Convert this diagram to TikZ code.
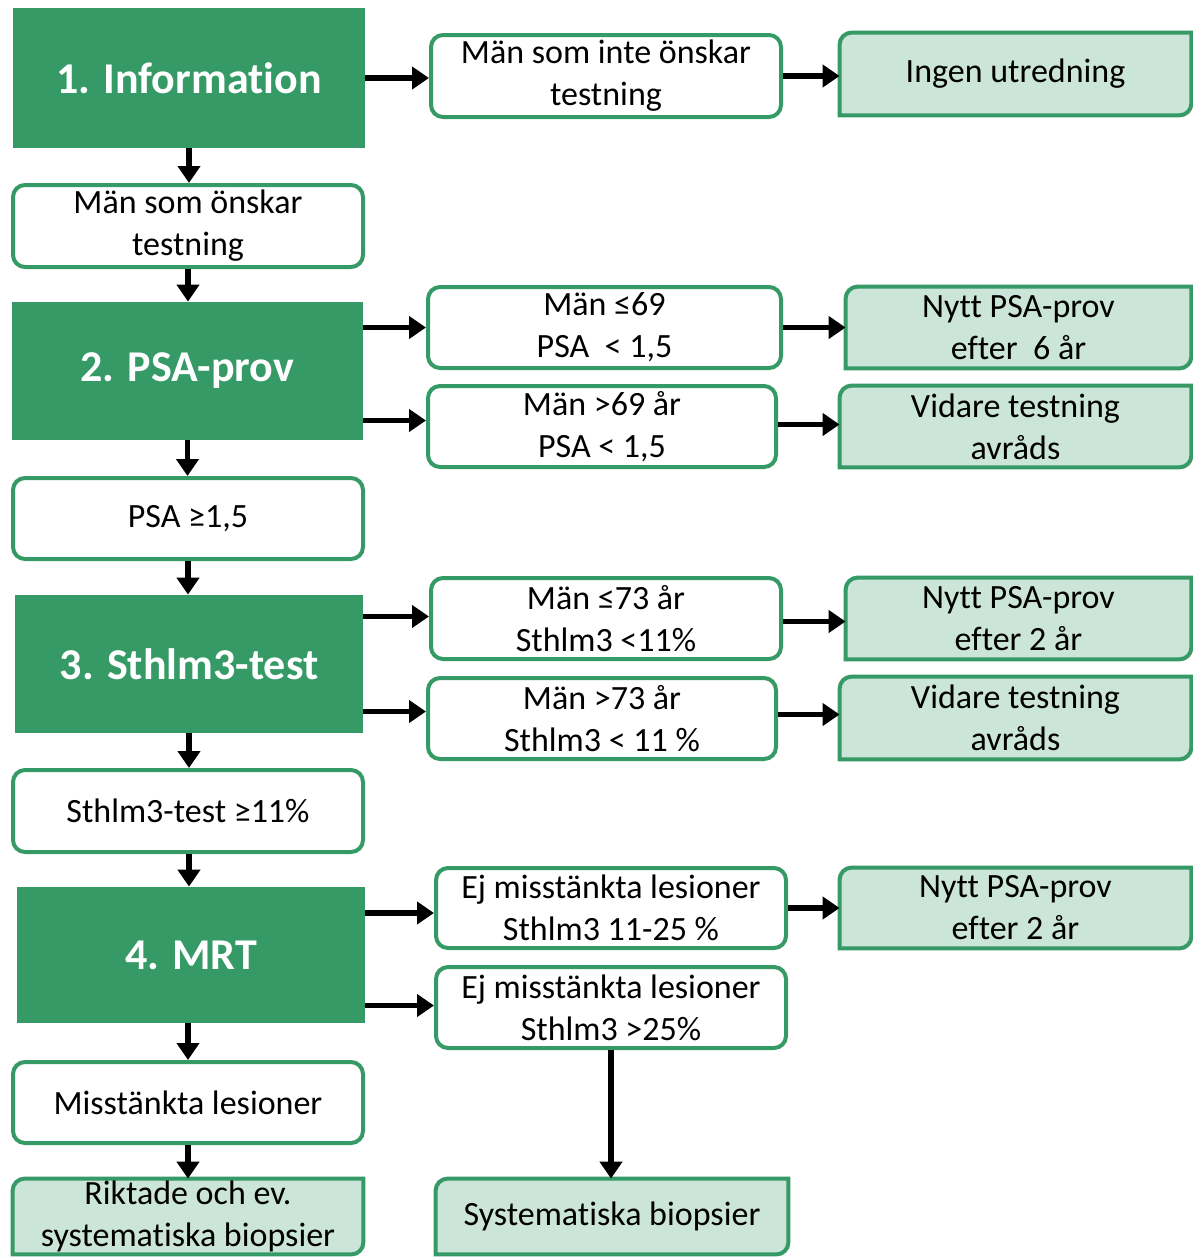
\documentclass[tikz,border=0pt]{standalone}
\usepackage{fontspec}
\setmainfont{Carlito}[Ligatures={NoCommon}]
\usetikzlibrary{arrows.meta,backgrounds}
\definecolor{dgreen}{RGB}{53,154,102}
\definecolor{lgreen}{RGB}{204,229,217}
\tikzset{
  x=0.5pt,y=-0.5pt,
  txt/.style={font=\fontsize{17pt}{21pt}\selectfont, align=center, text=black, inner sep=0pt},
  darkbox/.style={fill=dgreen, text=white, font=\bfseries\fontsize{22pt}{26pt}\selectfont, inner sep=0pt},
  whitebox/.style={txt, draw=dgreen, line width=2pt, rounded corners=6pt, fill=white},
  lbox/.style={txt},
  lshape/.style={draw=dgreen, fill=lgreen, line width=2pt},
  arr/.style={line width=2.6pt, -{Triangle[length=8.5pt,width=11pt]}, black},
}
\newcommand\lshapeof[1]{\filldraw[lshape] (#1.south west) -- ([yshift=-6pt]#1.north west) arc[start angle=180,end angle=90,radius=6pt] -- (#1.north east) -- ([yshift=6pt]#1.south east) arc[start angle=0,end angle=-90,radius=6pt] -- cycle;}
\begin{document}
\begin{tikzpicture}
\useasboundingbox (0,0) rectangle (1193,1258);
% dark boxes
\node[darkbox, minimum width=176pt, minimum height=70pt] (info) at (189,78) {1. Information};
\node[darkbox, minimum width=175.5pt, minimum height=69pt] (psa) at (187.5,371) {2. PSA-prov};
\node[darkbox, minimum width=174pt, minimum height=69pt] (sth) at (189,664) {3. Sthlm3-test};
\node[darkbox, minimum width=174pt, minimum height=68pt] (mrt) at (191,955) {4. MRT};
% left white boxes
\node[whitebox, minimum width=175pt, minimum height=41pt] (onskar) at (188,226) {Män som önskar\\testning};
\node[whitebox, minimum width=175pt, minimum height=40.5pt] (psa15) at (188,518.5) {PSA ≥1,5};
\node[whitebox, minimum width=175pt, minimum height=41pt] (sth11) at (188,811) {Sthlm3-test ≥11\%};
\node[whitebox, minimum width=175pt, minimum height=40.5pt] (miss) at (188,1102.5) {Misstänkta lesioner};
% middle boxes
\node[whitebox, minimum width=175pt, minimum height=41pt] (inte) at (606,76) {Män som inte önskar\\testning};
\node[whitebox, minimum width=176.5pt, minimum height=40.5pt] (m69a) at (604.5,327.5) {Män ≤69\\PSA~ < 1,5};
\node[whitebox, minimum width=174pt, minimum height=40.5pt] (m69b) at (602,426.5) {Män >69 år\\PSA < 1,5};
\node[whitebox, minimum width=175pt, minimum height=40.5pt] (m73a) at (606,618.5) {Män ≤73 år\\Sthlm3 <11\%};
\node[whitebox, minimum width=174pt, minimum height=40.5pt] (m73b) at (602,718.5) {Män >73 år\\Sthlm3 < 11 \%};
\node[whitebox, minimum width=175pt, minimum height=40pt] (ej1) at (611,908) {Ej misstänkta lesioner\\Sthlm3 11-25 \%};
\node[whitebox, minimum width=175pt, minimum height=40.5pt] (ej2) at (611,1007.5) {Ej misstänkta lesioner\\Sthlm3 >25\%};
% light boxes
\node[lbox, minimum width=175pt, minimum height=37.5pt] (rikt) at (188,1216.5) {Riktade och ev.\\systematiska biopsier};
\node[lbox, minimum width=176pt, minimum height=37.5pt] (sys) at (612,1216.5) {Systematiska biopsier};
\node[lbox, minimum width=175.5pt, minimum height=41pt] (ingen) at (1015.5,74) {Ingen utredning};
\node[lbox, minimum width=172.5pt, minimum height=40.5pt] (nytt6) at (1018.5,327.5) {Nytt PSA-prov\\efter~ 6 år};
\node[lbox, minimum width=175.5pt, minimum height=40.5pt] (vid1) at (1015.5,426.5) {Vidare testning\\avråds};
\node[lbox, minimum width=172.5pt, minimum height=40.5pt] (nytt2a) at (1018.5,618.5) {Nytt PSA-prov\\efter 2 år};
\node[lbox, minimum width=175.5pt, minimum height=41pt] (vid2) at (1015.5,718) {Vidare testning\\avråds};
\node[lbox, minimum width=175.5pt, minimum height=40pt] (nytt2b) at (1015.5,908) {Nytt PSA-prov\\efter 2 år};
\begin{scope}[on background layer]
\foreach \n in {rikt,sys,ingen,nytt6,vid1,nytt2a,vid2,nytt2b} {\lshapeof{\n}}
\end{scope}
% arrows
\draw[arr] ([yshift=-1pt]info.east |- inte.west) -- ([yshift=-1pt]inte.west);
\draw[arr] (inte.east) -- (ingen.west |- inte.east);
\draw[arr] (info.south) -- (info.south |- onskar.north);
\draw[arr] (onskar.south) -- (onskar.south |- psa.north);
\draw[arr] (psa.east |- m69a.west) -- (m69a.west);
\draw[arr] ([yshift=3pt]psa.east |- m69b.west) -- ([yshift=3pt]m69b.west);
\draw[arr] (m69a.east) -- (nytt6.west |- m69a.east);
\draw[arr] ([yshift=1pt]m69b.east) -- ([yshift=1pt]vid1.west |- m69b.east);
\draw[arr] (psa.south) -- (psa.south |- psa15.north);
\draw[arr] (psa15.south) -- (psa15.south |- sth.north);
\draw[arr] ([yshift=1pt]sth.east |- m73a.west) -- ([yshift=1pt]m73a.west);
\draw[arr] ([yshift=3.5pt]sth.east |- m73b.west) -- ([yshift=3.5pt]m73b.west);
\draw[arr] ([yshift=-1.5pt]m73a.east) -- ([yshift=-1.5pt]nytt2a.west |- m73a.east);
\draw[arr] ([yshift=2pt]m73b.east) -- ([yshift=2pt]vid2.west |- m73b.east);
\draw[arr] (sth.south) -- (sth.south |- sth11.north);
\draw[arr] (sth11.south -| sth.south) -- (sth.south |- mrt.north);
\draw[arr] ([yshift=-2.5pt]mrt.east |- ej1.west) -- ([yshift=-2.5pt]ej1.west);
\draw[arr] ([yshift=1pt]mrt.east |- ej2.west) -- ([yshift=1pt]ej2.west);
\draw[arr] (ej1.east) -- (nytt2b.west |- ej1.east);
\draw[arr] (mrt.south -| miss.south) -- (miss.north);
\draw[arr] (miss.south) -- (miss.south |- rikt.north);
\draw[arr] (ej2.south) -- (ej2.south |- sys.north);
\end{tikzpicture}
\end{document}
